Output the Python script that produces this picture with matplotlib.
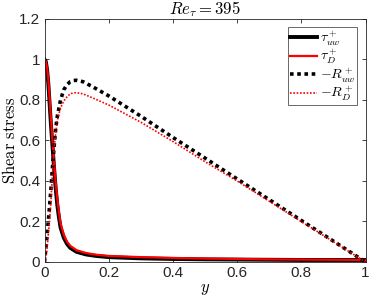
import matplotlib
matplotlib.use('Agg')
import matplotlib.pyplot as plt
import numpy as np
from matplotlib.ticker import FuncFormatter

plt.rcParams['mathtext.fontset'] = 'cm'
plt.rcParams['font.family'] = ['Liberation Sans', 'DejaVu Sans']

# wall-normal coordinate and stress profiles
y_tau = [0, 0.004, 0.008, 0.012, 0.016, 0.02, 0.025, 0.03, 0.035, 0.04, 0.045, 0.05,
         0.06, 0.07, 0.08, 0.1, 0.13, 0.16, 0.2, 0.3, 0.4, 0.5, 0.6, 0.7, 0.8, 0.9, 1.0]
tau_uw = [1.0, 0.99, 0.95, 0.88, 0.78, 0.68, 0.57, 0.46, 0.36, 0.28, 0.22, 0.17,
          0.12, 0.09, 0.07, 0.05, 0.037, 0.03, 0.024, 0.018, 0.015, 0.013, 0.012, 0.011, 0.01, 0.01, 0.01]
tau_D = [1.0, 0.99, 0.96, 0.9, 0.81, 0.71, 0.6, 0.49, 0.39, 0.31, 0.245, 0.19,
         0.135, 0.1, 0.08, 0.058, 0.044, 0.036, 0.03, 0.024, 0.02, 0.017, 0.015, 0.013, 0.012, 0.011, 0.01]

y_R = [0, 0.005, 0.01, 0.015, 0.02, 0.025, 0.03, 0.035, 0.04, 0.05, 0.06, 0.07, 0.08,
       0.09, 0.1, 0.12, 0.15, 0.2, 0.3, 0.4, 0.5, 0.6, 0.7, 0.8, 0.9, 1.0]
R_uw = [0.0, 0.08, 0.17, 0.26, 0.36, 0.47, 0.57, 0.66, 0.72, 0.8, 0.85, 0.875, 0.89,
        0.896, 0.897, 0.89, 0.865, 0.82, 0.72, 0.615, 0.513, 0.41, 0.308, 0.205, 0.103, 0.0]
R_D = [0.0, 0.03, 0.1, 0.19, 0.3, 0.44, 0.56, 0.64, 0.7, 0.76, 0.795, 0.815, 0.83,
       0.835, 0.836, 0.83, 0.81, 0.775, 0.69, 0.595, 0.495, 0.4, 0.3, 0.2, 0.1, 0.0]

fig = plt.figure(figsize=(3.69, 3.05), dpi=100)
ax = fig.add_axes([0.1206, 0.141, 0.87, 0.797])

ax.plot(y_tau, tau_uw, color='black', lw=2.8, label=r'$\tau_{uw}^+$')
ax.plot(y_tau, tau_D, color='red', lw=1.6, label=r'$\tau_{D}^+$')
ax.plot(y_R, R_uw, color='black', lw=2.6, ls=(0, (1, 1)), label=r'$-R_{uw}^+$')
ax.plot(y_R, R_D, color='red', lw=1.2, ls=(0, (1, 1)), label=r'$-R_{D}^+$')

ax.set_xlim(0, 1)
ax.set_ylim(0, 1.2)
ax.set_xticks(np.arange(0, 1.01, 0.2))
ax.set_yticks(np.arange(0, 1.21, 0.2))
fmt = FuncFormatter(lambda v, p: '%g' % round(v, 2))
ax.xaxis.set_major_formatter(fmt)
ax.yaxis.set_major_formatter(fmt)
ax.tick_params(direction='in', top=True, right=True, length=3, width=0.6,
               labelsize=11, colors='0.15', pad=3)
for s in ax.spines.values():
    s.set_color('0.15')
    s.set_linewidth(0.6)

ax.set_xlabel(r'$y$', fontsize=12, labelpad=1)
ax.set_ylabel(r'$\mathrm{Shear\ stress}$', fontsize=12)
ax.yaxis.set_label_coords(-0.084, 0.5)
ax.text(0.5, 1.042, r'$Re_\tau = 395$', transform=ax.transAxes, fontsize=12,
        ha='center', va='center')

leg = ax.legend(loc='upper right', fontsize=10, frameon=True, fancybox=False,
                edgecolor='0.15', handlelength=1.9, handletextpad=0.2,
                borderpad=0.15, labelspacing=0.0, borderaxespad=0.6)
leg.get_frame().set_linewidth(0.6)

plt.savefig('out.png', dpi=100)
